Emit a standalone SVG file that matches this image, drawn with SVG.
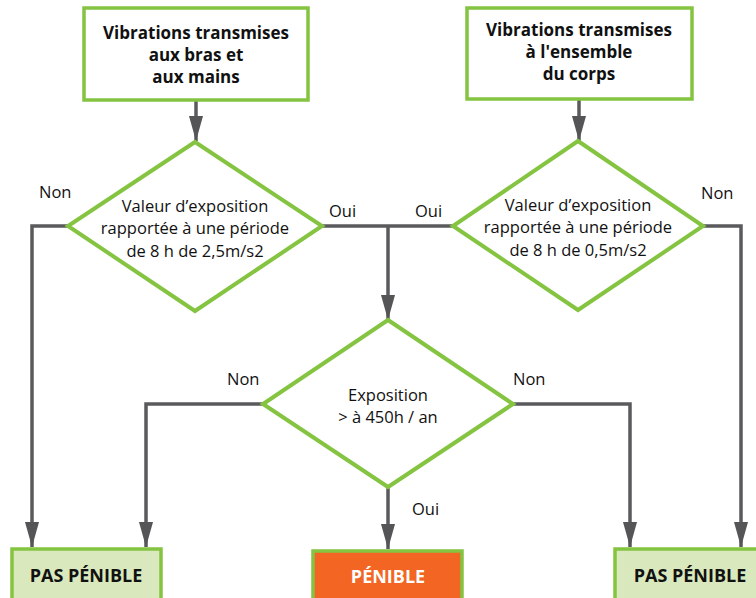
<svg xmlns="http://www.w3.org/2000/svg" width="756" height="598" viewBox="0 0 756 598">
  <defs>
    <marker id="arrow" viewBox="0 0 25 14" refX="25" refY="7" markerWidth="25" markerHeight="14" markerUnits="userSpaceOnUse" orient="auto">
      <path d="M0,0 L25,7 L0,14 Z" fill="#555557"/>
    </marker>
    <style>
      .box { fill: #ffffff; stroke: #84c441; stroke-width: 3.5; }
      .result { fill: #d9e8bd; stroke: #84c441; stroke-width: 3.5; }
      .alert { fill: #f26522; stroke: #84c441; stroke-width: 3.5; }
      .decision { fill: #ffffff; stroke: #84c441; stroke-width: 4; stroke-linejoin: miter; }
      .link { fill: none; stroke: #5a5a5c; stroke-width: 3.5; }
      .head { fill: none; stroke: #5a5a5c; stroke-width: 3.5; marker-end: url(#arrow); }
      text { font-family: "Open Sans", "Noto Sans", "Liberation Sans", sans-serif; fill: #111111; }
      .title { font-size: 17px; font-weight: bold; text-anchor: middle; }
      .cond { font-size: 16.5px; text-anchor: middle; }
      .lbl { font-size: 16.5px; }
      .res { font-size: 18px; font-weight: bold; text-anchor: middle; }
    </style>
  </defs>

  <!-- connectors -->
  <g id="connectors">
    <path class="head" d="M196,100 V141"/>
    <path class="head" d="M579,100 V141"/>
    <path class="head" d="M68,226 H32 V547"/>
    <path class="head" d="M703,226 H741 V547"/>
    <path class="link" d="M322,226 H453"/>
    <path class="head" d="M388,226 V320"/>
    <path class="head" d="M263,404 H146 V547"/>
    <path class="head" d="M513,404 H630 V547"/>
    <path class="head" d="M388,487 V549"/>
    <text class="lbl" x="39" y="198">Non</text>
    <text class="lbl" x="329" y="217">Oui</text>
    <text class="lbl" x="415" y="217">Oui</text>
    <text class="lbl" x="701" y="199">Non</text>
    <text class="lbl" x="227" y="385">Non</text>
    <text class="lbl" x="513" y="385">Non</text>
    <text class="lbl" x="412" y="515">Oui</text>
  </g>

  <!-- start: hand-arm vibrations -->
  <g id="start-hand-arm">
    <rect class="box" x="84" y="8" width="224" height="92"/>
    <text class="title" x="196" y="39">Vibrations transmises</text>
    <text class="title" x="196" y="61">aux bras et</text>
    <text class="title" x="196" y="83">aux mains</text>
  </g>

  <!-- start: whole-body vibrations -->
  <g id="start-whole-body">
    <rect class="box" x="467" y="8" width="225" height="91"/>
    <text class="title" x="579" y="36">Vibrations transmises</text>
    <text class="title" x="579" y="58">à l'ensemble</text>
    <text class="title" x="579" y="80">du corps</text>
  </g>

  <!-- decision: 2,5 m/s2 threshold -->
  <g id="decision-hand-arm">
    <polygon class="decision" points="195,142 322,226 195,311 68,226"/>
    <text class="cond" x="195" y="212">Valeur d’exposition</text>
    <text class="cond" x="195" y="234">rapportée à une période</text>
    <text class="cond" x="195" y="257">de 8 h de 2,5m/s2</text>
  </g>

  <!-- decision: 0,5 m/s2 threshold -->
  <g id="decision-whole-body">
    <polygon class="decision" points="578,141 703,226 578,310 453,226"/>
    <text class="cond" x="578" y="211">Valeur d’exposition</text>
    <text class="cond" x="578" y="233">rapportée à une période</text>
    <text class="cond" x="578" y="256">de 8 h de 0,5m/s2</text>
  </g>

  <!-- decision: yearly duration -->
  <g id="decision-duration">
    <polygon class="decision" points="388,320 513,404 388,487 263,404"/>
    <text class="cond" x="388" y="401">Exposition</text>
    <text class="cond" x="388" y="423">&gt; à 450h / an</text>
  </g>

  <!-- outcomes -->
  <g id="result-left">
    <rect class="result" x="12" y="549" width="149" height="60"/>
    <text class="res" x="86" y="582">PAS PÉNIBLE</text>
  </g>
  <g id="result-arduous">
    <rect class="alert" x="313" y="551" width="149" height="60"/>
    <text class="res" x="388" y="583" style="fill:#ffffff">PÉNIBLE</text>
  </g>
  <g id="result-right">
    <rect class="result" x="615" y="549" width="160" height="60"/>
    <text class="res" x="690" y="582">PAS PÉNIBLE</text>
  </g>
</svg>
